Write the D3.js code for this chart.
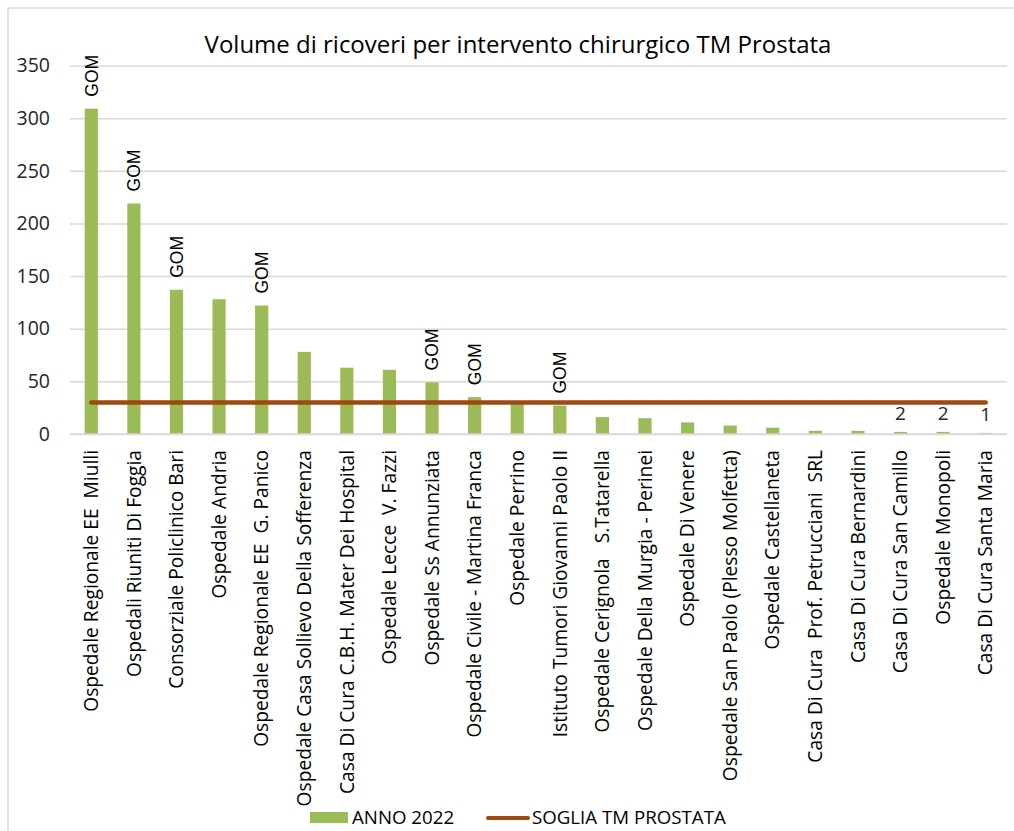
<!DOCTYPE html>
<html>
<head>
<meta charset="utf-8">
<script src="https://cdn.jsdelivr.net/npm/d3@7"></script>
<style>
  html, body { margin: 0; padding: 0; background: #fff; }
  svg { display: block; }
  text { white-space: pre; }
</style>
</head>
<body>
<svg id="chart" width="1014" height="831"></svg>
<script>
// ---- data ----
const categories = [
  "Ospedale Regionale EE  Miulli",
  "Ospedali Riuniti Di Foggia",
  "Consorziale Policlinico Bari",
  "Ospedale Andria",
  "Ospedale Regionale EE  G. Panico",
  "Ospedale Casa Sollievo Della Sofferenza",
  "Casa Di Cura C.B.H. Mater Dei Hospital",
  "Ospedale Lecce  V. Fazzi",
  "Ospedale Ss Annunziata",
  "Ospedale Civile - Martina Franca",
  "Ospedale Perrino",
  "Istituto Tumori Giovanni Paolo II",
  "Ospedale Cerignola   S.Tatarella",
  "Ospedale Della Murgia - Perinei",
  "Ospedale Di Venere",
  "Ospedale San Paolo (Plesso Molfetta)",
  "Ospedale Castellaneta",
  "Casa Di Cura  Prof. Petrucciani  SRL",
  "Casa Di Cura Bernardini",
  "Casa Di Cura San Camillo",
  "Ospedale Monopoli",
  "Casa Di Cura Santa Maria"
];
const anno2022 = [309, 219, 137, 128, 122, 78, 63, 61, 49, 35, 30, 27, 16, 15, 11, 8, 6, 3, 3, 2, 2, 1];
const soglia = [30, 30, 30, 30, 30, 30, 30, 30, 30, 30, 30, 30, 30, 30, 30, 30, 30, 30, 30, 30, 30, 30];
const gomLabels = ["GOM", "GOM", "GOM", "", "GOM", "", "", "", "GOM", "GOM", "", "GOM", "", "", "", "", "", "", "", "", "", ""];
const valueLabels = ["", "", "", "", "", "", "", "", "", "", "", "", "", "", "", "", "", "", "", "2", "2", "1"];
const yTicks = [0, 50, 100, 150, 200, 250, 300, 350];
const title = "Volume di ricoveri per intervento chirurgico TM Prostata";
const seriesNames = ["ANNO 2022", "SOGLIA TM PROSTATA"];

// ---- layout ----
const svg = d3.select("#chart");
const pLeft = 70, pRight = 1007, pTop = 65.5, pBottom = 434;
const cal = "'Open Sans', 'Liberation Sans', sans-serif";
const barColor = "#9BBB59", lineColor = "#A0490F", gridColor = "#D9D9D9";

// outer border
svg.append("rect").attr("x", 8).attr("y", 8).attr("width", 1030).attr("height", 840)
  .attr("fill", "none").attr("stroke", gridColor).attr("stroke-width", 1.5);

const x = d3.scaleBand().domain(categories).range([pLeft, pRight]).paddingInner(0.69).paddingOuter(0.345);
const y = d3.scaleLinear().domain([0, 350]).range([pBottom, pTop]);

// gridlines
const grid = svg.append("g").attr("transform", `translate(${pLeft},0)`)
  .call(d3.axisLeft(y).tickValues(yTicks).tickSize(-(pRight - pLeft)).tickFormat(""));
grid.select(".domain").remove();
grid.selectAll("line").attr("stroke", gridColor).attr("stroke-width", 1.5);

// y axis labels
const yAxis = svg.append("g").attr("transform", `translate(${pLeft},0)`)
  .call(d3.axisLeft(y).tickValues(yTicks).tickSize(0).tickPadding(20));
yAxis.select(".domain").remove();
yAxis.selectAll("text").attr("font-family", cal).attr("font-size", 19.5).attr("fill", "#262626");

// bars
svg.append("g").selectAll("rect").data(anno2022).join("rect")
  .attr("x", (d, i) => x(categories[i]))
  .attr("y", d => y(d))
  .attr("width", x.bandwidth())
  .attr("height", d => y(0) - y(d))
  .attr("fill", barColor);

// threshold line
const line = d3.line().x((d, i) => x(categories[i]) + x.bandwidth() / 2).y(d => y(d));
svg.append("path").datum(soglia).attr("d", line)
  .attr("fill", "none").attr("stroke", lineColor).attr("stroke-width", 4.5).attr("stroke-linecap", "round");

// GOM labels
const gomG = svg.append("g");
gomLabels.forEach((lab, i) => {
  if (!lab) return;
  const cx = x(categories[i]) + x.bandwidth() / 2;
  const yy = y(anno2022[i]) - 12;
  gomG.append("text")
    .attr("transform", `translate(${cx},${yy}) rotate(-90)`)
    .attr("dy", "0.36em")
    .attr("text-anchor", "start")
    .attr("font-family", "'Liberation Sans', Arial, sans-serif")
    .attr("font-size", 17.5)
    .attr("fill", "#000")
    .text(lab);
});

// value labels
const valG = svg.append("g");
valueLabels.forEach((lab, i) => {
  if (!lab) return;
  const cx = x(categories[i]) + x.bandwidth() / 2;
  valG.append("text")
    .attr("x", cx).attr("y", y(anno2022[i]) - 12)
    .attr("text-anchor", "middle")
    .attr("font-family", cal).attr("font-size", 19).attr("fill", "#262626")
    .text(lab);
});

// baseline
svg.append("line").attr("x1", pLeft).attr("x2", pRight).attr("y1", y(0)).attr("y2", y(0))
  .attr("stroke", gridColor).attr("stroke-width", 1.5);

// category labels
const xAxis = svg.append("g").attr("transform", `translate(0,${pBottom})`)
  .call(d3.axisBottom(x).tickSize(0).tickPadding(0));
xAxis.select(".domain").remove();
xAxis.selectAll("text")
  .attr("transform", "translate(0,16) rotate(-90)")
  .attr("x", 0).attr("y", 0).attr("dy", "0.35em")
  .attr("text-anchor", "end")
  .attr("font-family", cal).attr("font-size", 19.2).attr("fill", "#000");

// title
svg.append("text").attr("x", 518).attr("y", 53).attr("text-anchor", "middle")
  .attr("font-family", cal).attr("font-size", 24).attr("fill", "#000").text(title);

// legend
const lg = svg.append("g");
lg.append("rect").attr("x", 310).attr("y", 812).attr("width", 38).attr("height", 11).attr("fill", barColor);
lg.append("text").attr("x", 352).attr("y", 824).attr("font-family", cal).attr("font-size", 18.7).attr("fill", "#000").text(seriesNames[0]);
lg.append("line").attr("x1", 488).attr("x2", 528).attr("y1", 818).attr("y2", 818)
  .attr("stroke", lineColor).attr("stroke-width", 4).attr("stroke-linecap", "round");
lg.append("text").attr("x", 532).attr("y", 824).attr("font-family", cal).attr("font-size", 18.7).attr("fill", "#000").text(seriesNames[1]);
</script>
</body>
</html>
